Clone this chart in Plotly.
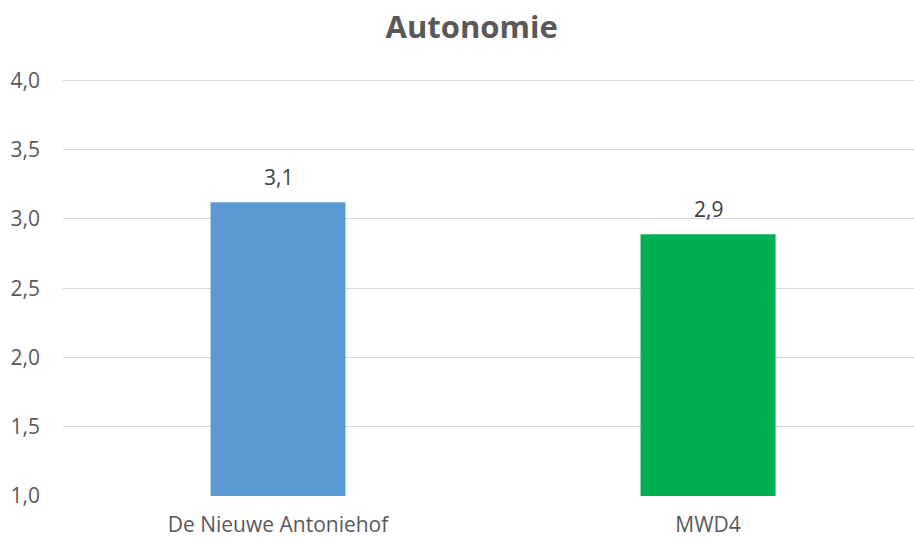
import plotly.graph_objects as go

categories = ["De Nieuwe Antoniehof", "MWD4"]
values = [3.12, 2.89]
labels = ["3,1", "2,9"]
colors = ["#5B9BD5", "#00B050"]

fig = go.Figure()
fig.add_trace(go.Bar(x=[0, 1], y=values, marker=dict(color=colors, line=dict(width=0)),
                     width=0.314, hoverinfo="skip"))
for i, (v, t) in enumerate(zip(values, labels)):
    fig.add_annotation(x=i, y=v, text=t, showarrow=False, yanchor="middle", yshift=25,
                       font=dict(family="Open Sans", size=21, color="#404040"))

fig.update_layout(
    width=914, height=539,
    margin=dict(l=63, r=0, t=77, b=43),
    paper_bgcolor="white", plot_bgcolor="white",
    separators=",.",
    showlegend=False,
    title=dict(text="<b>Autonomie</b>", x=0.516, xanchor="center", y=0.95, yanchor="middle",
               font=dict(family="Open Sans", size=31, color="#595959")),
    font=dict(family="Open Sans", size=21, color="#595959"),
)
fig.update_xaxes(range=[-0.5, 1.479], tickvals=[0, 1], ticktext=categories,
                 showgrid=False, zeroline=False, showline=False, ticks="",
                 ticklabelstandoff=14,
                 tickfont=dict(family="Open Sans", size=21, color="#595959"))
fig.update_yaxes(range=[1, 4.025], tickvals=[1, 1.5, 2, 2.5, 3, 3.5, 4], tickformat=".1f",
                 showgrid=True, gridcolor="#D9D9D9", gridwidth=1.3, zeroline=False,
                 showline=False, ticks="", ticklabelstandoff=22,
                 tickfont=dict(family="Open Sans", size=21, color="#595959"))
fig.write_html("out.html")
